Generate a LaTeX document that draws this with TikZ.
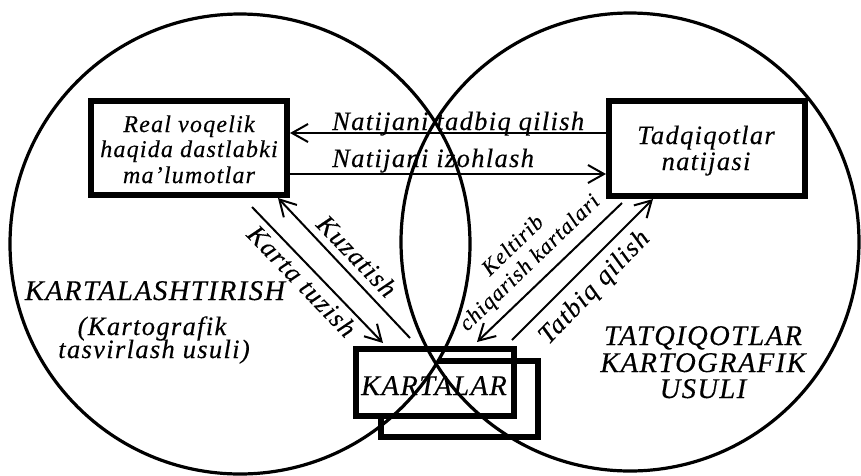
\documentclass[tikz,border=0pt]{standalone}
\usepackage{fontspec}
\setmainfont{Liberation Serif}
\newfontfamily\lsfont[LetterSpace=5,FakeBold=0.35]{Liberation Serif}
\usetikzlibrary{arrows.meta}
\begin{document}
\begin{tikzpicture}[x=1pt,y=-1pt,
  bx/.style={draw, line width=6pt, inner sep=0pt},
  ar/.style={line width=2pt, -{Straight Barb[length=16pt,width=18pt]}},
  circ/.style={line width=3.2pt},
  lbl/.style={font=\lsfont\itshape\fontsize{26.5}{28}\selectfont, inner sep=0pt},
  caps/.style={font=\lsfont\itshape\fontsize{28.5}{30}\selectfont, inner sep=0pt},
  lbls/.style={font=\lsfont\itshape\fontsize{22}{24}\selectfont, inner sep=0pt, align=center},
  btxt/.style={font=\lsfont\itshape\fontsize{24}{26}\selectfont, inner sep=0pt}]
\useasboundingbox (0,0) rectangle (861,475);
% circles
\draw[circ] (240,244) circle[radius=230pt];
\draw[circ] (630,242) circle[radius=229pt];
% boxes
\node[bx, minimum width=196pt, minimum height=94pt] (real) at (189,148) {};
\node[bx, minimum width=196pt, minimum height=95pt] (tad) at (707,148.5) {};
\node[bx, minimum width=158pt, minimum height=67pt] (kA) at (435,382.5) {};
\node[inner sep=0pt, outer sep=0pt, minimum width=157pt, minimum height=76pt] (kB) at (459.5,399) {};
\draw[line width=6pt] ([xshift=57pt]kB.north west) -- (kB.north east) -- (kB.south east) -- (kB.south west) -- ([yshift=20pt]kB.south west);
% box texts
\node[btxt, anchor=base] (r1) at (189,132) {Real voqelik};
\node[btxt, anchor=base] (r2) at (189,157) {haqida dastlabki};
\node[btxt, anchor=base] (r3) at (189,183) {ma’lumotlar};
\node[lbl, anchor=base] (t1) at (706,144) {Tadqiqotlar};
\node[lbl, anchor=base] (t2) at (706,170) {natijasi};
\node[caps, anchor=base] (kt) at (434,395) {KARTALAR};
% horizontal arrows
\coordinate (h1) at (0,133);
\coordinate (h2) at (0,174);
\draw[ar] (tad.west |- h1) -- (real.east |- h1);
\draw[ar] (real.east |- h2) -- (tad.west |- h2);
\node[lbl, anchor=base west] (n1) at (332,130) {Natijani tadbiq qilish};
\node[lbl, anchor=base west] (n2) at (332,167) {Natijani izohlash};
% diagonal arrows
\draw[ar] ([xshift=63pt,yshift=-9pt]real.south) -- ([xshift=30pt,yshift=3pt]kA.north west);
\draw[ar] ([xshift=57pt,yshift=8pt]kA.north west) -- ([xshift=89pt]real.south);
\draw[ar] ([xshift=16pt,yshift=-4pt]tad.south west) -- ([xshift=124pt,yshift=4pt]kA.north west);
\draw[ar] ([xshift=159pt,yshift=6pt]kA.north west) -- ([xshift=47pt]tad.south west);
\node[lbl, rotate=-46] (kq) at (302,281) {Karta tuzish};
\node[lbl, rotate=-46] (kz) at (357,256) {Kuzatish};
\node[lbls, rotate=44] (kc) at (522,255) {Keltirib\\chiqarish kartalari};
\node[lbl, rotate=46] (tq) at (595,288) {Tatbiq qilish};
% big labels
\node[caps, anchor=base] (k1) at (155,300) {KARTALASHTIRISH};
\node[lbl, anchor=base] (k2) at (152,335) {(Kartografik};
\node[lbl, anchor=base] (k3) at (154,358) {tasvirlash usuli)};
\node[caps, anchor=base] (u1) at (703,345) {TATQIQOTLAR};
\node[caps, anchor=base] (u2) at (703,372) {KARTOGRAFIK};
\node[caps, anchor=base] (u3) at (703,398) {USULI};
\end{tikzpicture}
\end{document}
